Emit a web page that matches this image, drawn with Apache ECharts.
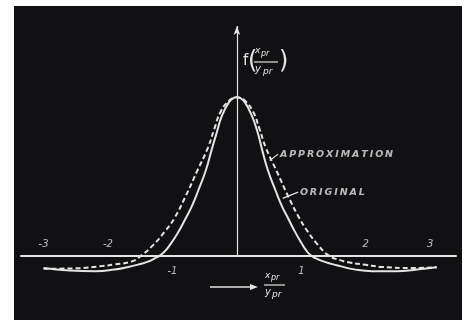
<!DOCTYPE html>
<html>
<head>
<meta charset="utf-8">
<script src="https://cdn.jsdelivr.net/npm/echarts@6/dist/echarts.min.js"></script>
<style>
  html, body { margin: 0; padding: 0; background: #ffffff; }
  #wrap { position: relative; width: 471px; height: 320px; overflow: hidden; }
  #panel { position: absolute; left: 14px; top: 6px; width: 448px; height: 314px; background: #111013; }
  #chart { position: absolute; left: 0; top: 0; width: 471px; height: 320px; }
</style>
</head>
<body>
<div id="wrap"><div id="panel"></div><div id="chart"></div></div>
<script>
// Original pulse f(x_pr / y_pr)
const ratioOriginal = [-3.0, -2.6, -2.2, -1.9, -1.7, -1.5, -1.38, -1.28, -1.19, -1.12, -1.05, -0.92, -0.8, -0.7, -0.6, -0.48, -0.39, -0.31, -0.23, -0.12, -0.05, 0,
                       0.05, 0.12, 0.23, 0.32, 0.39, 0.48, 0.6, 0.7, 0.8, 0.9, 1.0, 1.07, 1.14, 1.22, 1.32, 1.45, 1.6, 1.8, 2.1, 2.5, 2.9, 3.1];
const fOriginal     = [-0.08, -0.095, -0.1, -0.09, -0.075, -0.055, -0.04, -0.02, 0, 0.025, 0.06, 0.14, 0.23, 0.31, 0.41, 0.54, 0.67, 0.78, 0.885, 0.97, 0.995, 1.0,
                       0.995, 0.97, 0.885, 0.78, 0.67, 0.54, 0.41, 0.31, 0.23, 0.15, 0.08, 0.035, 0.002, -0.018, -0.035, -0.052, -0.068, -0.087, -0.1, -0.1, -0.085, -0.075];

// Approximating curve
const ratioApprox = [-3.0, -2.5, -2.1, -1.9, -1.63, -1.48, -1.3, -1.12, -0.97, -0.8, -0.62, -0.45, -0.35, -0.25, -0.12, -0.05, 0,
                     0.05, 0.12, 0.25, 0.35, 0.45, 0.62, 0.8, 0.97, 1.1, 1.25, 1.42, 1.6, 1.75, 2.0, 2.25, 2.7, 3.1];
const fApprox     = [-0.085, -0.082, -0.068, -0.057, -0.038, 0, 0.065, 0.15, 0.235, 0.37, 0.53, 0.68, 0.8, 0.91, 0.98, 0.996, 1.0,
                     0.996, 0.98, 0.91, 0.8, 0.68, 0.53, 0.37, 0.235, 0.15, 0.07, 0, -0.03, -0.045, -0.06, -0.073, -0.08, -0.075];

// Tick labels: some sit above the axis line, some below
const upperTicks = [-3, -2, 2, 3];
const lowerTicks = [-1, 1];

// Curve names and where their captions start
const captionNames = ['APPROXIMATION', 'ORIGINAL'];
const captionAt = [[0.66, 0.635], [0.97, 0.40]];
const leaderFrom = [[0.51, 0.60], [0.71, 0.36]];
const leaderTo = [[0.64, 0.64], [0.95, 0.40]];

const ink = '#e4e4e4';
const spaced = s => s.split('').join('\u2009');
const pairs = (xs, ys) => xs.map((x, i) => [x, ys[i]]);

const chart = echarts.init(document.getElementById('chart'), null, { renderer: 'canvas' });

const tickFont = { color: ink, fontSize: 10, fontStyle: 'italic', fontFamily: 'DejaVu Sans' };
const captionFont = { color: ink, fontSize: 9.5, fontStyle: 'italic', fontWeight: 'bold', fontFamily: 'DejaVu Sans' };

const option = {
  animation: false,
  backgroundColor: 'transparent',
  grid: { left: 21, right: 15, top: 26, bottom: 33 },
  xAxis: {
    type: 'value', min: -3.35, max: 3.4,
    axisLine: { onZero: true, lineStyle: { color: ink, width: 2 } },
    axisTick: { show: false }, splitLine: { show: false }, axisLabel: { show: false }
  },
  yAxis: {
    type: 'value', min: -0.2, max: 1.45,
    axisLine: { show: false }, axisTick: { show: false },
    splitLine: { show: false }, axisLabel: { show: false }
  },
  series: [
    {
      name: 'ORIGINAL', type: 'line', data: pairs(ratioOriginal, fOriginal),
      smooth: 0.5, symbol: 'none',
      lineStyle: { color: ink, width: 2 },
      markLine: {
        silent: true, symbol: ['none', 'none'], animation: false,
        lineStyle: { color: ink, width: 1.2, type: 'solid' },
        label: { show: false },
        data: [
          [{ coord: leaderFrom[1] }, { coord: leaderTo[1] }],
          // ordinate with arrow head
          [{ coord: [0, 0], symbol: 'none' },
           { coord: [0, 1.45], symbol: 'arrow', symbolSize: [5, 9] }]
        ]
      }
    },
    {
      name: 'APPROXIMATION', type: 'line', data: pairs(ratioApprox, fApprox),
      smooth: 0.5, symbol: 'none',
      lineStyle: { color: ink, width: 2, type: [5, 3] },
      markLine: {
        silent: true, symbol: ['none', 'none'], animation: false,
        lineStyle: { color: ink, width: 1.2, type: 'solid' },
        label: { show: false },
        data: [[{ coord: leaderFrom[0] }, { coord: leaderTo[0] }]]
      }
    },
    {
      // abscissa tick numbers above the axis
      type: 'scatter', silent: true, symbolSize: 1, itemStyle: { color: 'transparent' },
      data: upperTicks.map(v => [v, 0]),
      label: Object.assign({ show: true, position: 'top', distance: 5, formatter: p => String(p.value[0]) }, tickFont)
    },
    {
      // abscissa tick numbers below the axis
      type: 'scatter', silent: true, symbolSize: 1, itemStyle: { color: 'transparent' },
      data: lowerTicks.map(v => [v, 0]),
      label: Object.assign({ show: true, position: 'bottom', distance: 11, formatter: p => String(p.value[0]) }, tickFont)
    },
    {
      // curve captions
      type: 'scatter', silent: true, symbolSize: 1, itemStyle: { color: 'transparent' },
      data: captionAt.map((c, i) => ({ value: c, name: captionNames[i] })),
      label: Object.assign({ show: true, position: 'right', distance: 0, formatter: p => spaced(p.name) }, captionFont)
    }
  ],
  graphic: [
    // ordinate name f(x_pr / y_pr)
    { type: 'text', left: 243, top: 54, style: { text: 'f', fill: ink, fontSize: 15, fontFamily: 'DejaVu Sans' } },
    { type: 'text', left: 248, top: 50, style: { text: '(', fill: ink, fontSize: 24, fontFamily: 'DejaVu Sans' } },
    { type: 'text', left: 255, top: 46, style: { text: 'x', fill: ink, fontSize: 9, fontStyle: 'italic', fontFamily: 'DejaVu Sans' } },
    { type: 'text', left: 261, top: 50, style: { text: 'pr', fill: ink, fontSize: 8, fontStyle: 'italic', fontFamily: 'DejaVu Sans' } },
    { type: 'line', shape: { x1: 254, y1: 62, x2: 278, y2: 62 }, style: { stroke: ink, lineWidth: 1.2 } },
    { type: 'text', left: 255, top: 64, style: { text: 'y', fill: ink, fontSize: 10, fontStyle: 'italic', fontFamily: 'DejaVu Sans' } },
    { type: 'text', left: 263, top: 67, style: { text: 'pr', fill: ink, fontSize: 9, fontStyle: 'italic', fontFamily: 'DejaVu Sans' } },
    { type: 'text', left: 279, top: 50, style: { text: ')', fill: ink, fontSize: 24, fontFamily: 'DejaVu Sans' } },

    // abscissa name  ->  x_pr / y_pr
    { type: 'line', shape: { x1: 210, y1: 287, x2: 252, y2: 287 }, style: { stroke: ink, lineWidth: 1.5 } },
    { type: 'polygon', shape: { points: [[250, 284], [258, 287], [250, 290]] }, style: { fill: ink } },
    { type: 'text', left: 265, top: 271, style: { text: 'x', fill: ink, fontSize: 9, fontStyle: 'italic', fontFamily: 'DejaVu Sans' } },
    { type: 'text', left: 271, top: 274, style: { text: 'pr', fill: ink, fontSize: 8, fontStyle: 'italic', fontFamily: 'DejaVu Sans' } },
    { type: 'line', shape: { x1: 264, y1: 285, x2: 285, y2: 285 }, style: { stroke: ink, lineWidth: 1.2 } },
    { type: 'text', left: 265, top: 287, style: { text: 'y', fill: ink, fontSize: 10, fontStyle: 'italic', fontFamily: 'DejaVu Sans' } },
    { type: 'text', left: 272, top: 290, style: { text: 'pr', fill: ink, fontSize: 9, fontStyle: 'italic', fontFamily: 'DejaVu Sans' } }
  ]
};

chart.setOption(option);
</script>
</body>
</html>
